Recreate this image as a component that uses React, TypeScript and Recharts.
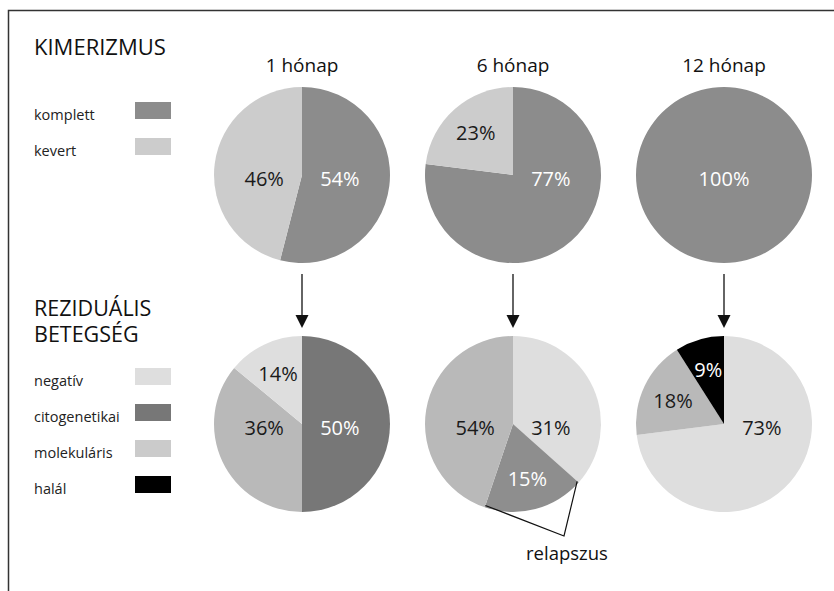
import React from "react";
import { PieChart, Pie, Cell } from "recharts";

// panel headings
const MONTHS = ["1 hónap", "6 hónap", "12 hónap"];

// chimerism (top row), share of patients per month
const CHIMERISM_KEYS = ["komplett", "kevert"];
const COMPLETE = [54, 77, 100];
const MIXED = [46, 23, 0];

// residual disease (bottom row), slices clockwise from 12 o'clock
const RESIDUAL_KEYS = ["negatív", "citogenetikai", "molekuláris", "halál"];
const RESIDUAL_1_NAMES = ["citogenetikai", "molekuláris", "negatív"];
const RESIDUAL_1_VALUES = [50, 36, 14];
// the original artwork draws these slices wider/narrower than the printed figures
const RESIDUAL_6_NAMES = ["negatív", "relapszus", "molekuláris"];
const RESIDUAL_6_VALUES = [36.6, 18.6, 44.8];
const RESIDUAL_6_LABELS = ["31%", "15%", "54%"];
const RESIDUAL_12_NAMES = ["negatív", "molekuláris", "halál"];
const RESIDUAL_12_VALUES = [73, 18, 9];

const W = 834;
const H = 591;
const FONT = "'Open Sans', 'Noto Sans', sans-serif";
const R = 88;
const COL_X = [302, 513, 724];
const TOP_Y = 175;
const BOTTOM_Y = 424;

const FILL: Record<string, string> = {
  komplett: "#8c8c8c",
  kevert: "#cccccc",
  negatív: "#dedede",
  citogenetikai: "#777777",
  molekuláris: "#b9b9b9",
  relapszus: "#8e8e8e",
  halál: "#000000",
};
const LEGEND_FILL: Record<string, string> = {
  ...FILL,
  molekuláris: "#cbcbcb",
};
const DARK = new Set(["komplett", "citogenetikai", "relapszus", "halál"]);

type Slice = { name: string; value: number; label: string };

const topData = (i: number): Slice[] =>
  [
    { name: CHIMERISM_KEYS[0], value: COMPLETE[i], label: `${COMPLETE[i]}%` },
    { name: CHIMERISM_KEYS[1], value: MIXED[i], label: `${MIXED[i]}%` },
  ].filter((d) => d.value > 0);

const zipSlices = (names: string[], values: number[], labels?: string[]): Slice[] =>
  names.map((n, i) => ({
    name: n,
    value: values[i],
    label: labels ? labels[i] : `${values[i]}%`,
  }));

const bottomData: Slice[][] = [
  zipSlices(RESIDUAL_1_NAMES, RESIDUAL_1_VALUES),
  zipSlices(RESIDUAL_6_NAMES, RESIDUAL_6_VALUES, RESIDUAL_6_LABELS),
  zipSlices(RESIDUAL_12_NAMES, RESIDUAL_12_VALUES),
];

const RAD = Math.PI / 180;

// big slices get their label on the horizontal through the centre,
// small ones further out along the slice's middle
const renderLabel = (props: any) => {
  const { cx, cy, midAngle, outerRadius, percent, payload } = props;
  const p = payload?.payload ?? payload;
  const name = p?.name ?? props.name;
  const text = p?.label ?? props.label;
  let x = cx;
  let y = cy + 3;
  if (percent < 0.999) {
    const cos = Math.cos(-midAngle * RAD);
    const sin = Math.sin(-midAngle * RAD);
    if (percent >= 0.3) {
      x = cx + Math.sign(cos) * outerRadius * 0.43;
    } else {
      const r = outerRadius * 0.64;
      x = cx + r * cos;
      y = cy + r * sin;
    }
  }
  return (
    <text
      x={x}
      y={y}
      textAnchor="middle"
      dominantBaseline="central"
      fill={DARK.has(name) ? "#ffffff" : "#1a1a1a"}
      fontFamily={FONT}
      fontSize={20}
    >
      {text}
    </text>
  );
};

// point on the rim of a pie, share measured clockwise from 12 o'clock
const rim = (cx: number, cy: number, share: number, r: number) => {
  const a = (share / 100) * 2 * Math.PI;
  return [cx + r * Math.sin(a), cy - r * Math.cos(a)];
};

const Arrow = ({ x }: { x: number }) => (
  <g>
    <line x1={x} y1={274} x2={x} y2={318} stroke="#111" strokeWidth={1.3} />
    <polygon points={`${x - 6.5},315 ${x + 6.5},315 ${x},328`} fill="#111" />
  </g>
);

export default function App() {
  const relTotal = RESIDUAL_6_VALUES.reduce((a, b) => a + b, 0);
  const relStart = (RESIDUAL_6_VALUES[0] / relTotal) * 100;
  const relEnd = ((RESIDUAL_6_VALUES[0] + RESIDUAL_6_VALUES[1]) / relTotal) * 100;
  const [ax, ay] = rim(COL_X[1], BOTTOM_Y, relStart, R - 2);
  const [bx, by] = rim(COL_X[1], BOTTOM_Y, relEnd, R - 2);
  const tipX = 564;
  const tipY = 536;

  const legendText = {
    fontFamily: FONT,
    fontSize: 14.5,
    fill: "#222",
  };
  const headText = {
    fontFamily: FONT,
    fontSize: 22,
    fill: "#111",
  };

  return (
    <div
      style={{
        position: "absolute",
        left: 0,
        top: 0,
        width: W,
        height: H,
        background: "#fff",
      }}
    >
      <PieChart
        width={W}
        height={H}
        margin={{ top: 0, right: 0, bottom: 0, left: 0 }}
        style={{ position: "absolute", left: 0, top: 0 }}
      >
        {MONTHS.map((m, i) => (
          <Pie
            key={`top-${m}`}
            data={topData(i)}
            dataKey="value"
            nameKey="name"
            cx={COL_X[i]}
            cy={TOP_Y}
            outerRadius={R}
            startAngle={90}
            endAngle={-270}
            stroke="none"
            label={renderLabel}
            labelLine={false}
            isAnimationActive={false}
          >
            {topData(i).map((d) => (
              <Cell key={d.name} fill={FILL[d.name]} />
            ))}
          </Pie>
        ))}
        {MONTHS.map((m, i) => (
          <Pie
            key={`bottom-${m}`}
            data={bottomData[i]}
            dataKey="value"
            nameKey="name"
            cx={COL_X[i]}
            cy={BOTTOM_Y}
            outerRadius={R}
            startAngle={90}
            endAngle={-270}
            stroke="none"
            label={renderLabel}
            labelLine={false}
            isAnimationActive={false}
          >
            {bottomData[i].map((d) => (
              <Cell key={d.name} fill={FILL[d.name]} />
            ))}
          </Pie>
        ))}
      </PieChart>

      <svg
        width={W}
        height={H}
        style={{ position: "absolute", left: 0, top: 0, pointerEvents: "none" }}
      >
        {/* frame */}
        <polyline
          points={`8.5,${H} 8.5,10.5 ${W},10.5`}
          fill="none"
          stroke="#333"
          strokeWidth={1.5}
        />

        <text x={34} y={55} {...headText}>
          KIMERIZMUS
        </text>
        {MONTHS.map((m, i) => (
          <text
            key={m}
            x={COL_X[i]}
            y={72}
            textAnchor="middle"
            {...headText}
            fontSize={19}
          >
            {m}
          </text>
        ))}

        {CHIMERISM_KEYS.map((k, i) => (
          <g key={k}>
            <text x={34} y={120 + i * 36} {...legendText}>
              {k}
            </text>
            <rect x={135} y={102 + i * 36} width={36} height={17} fill={LEGEND_FILL[k]} />
          </g>
        ))}

        <text x={34} y={316} {...headText} fontSize={21.5}>
          REZIDUÁLIS
        </text>
        <text x={34} y={342} {...headText} fontSize={21.5}>
          BETEGSÉG
        </text>
        {RESIDUAL_KEYS.map((k, i) => (
          <g key={k}>
            <text x={34} y={386 + i * 36} {...legendText}>
              {k}
            </text>
            <rect x={135} y={368 + i * 36} width={36} height={17} fill={LEGEND_FILL[k]} />
          </g>
        ))}

        {COL_X.map((x) => (
          <Arrow key={x} x={x} />
        ))}

        {/* relapse bracket */}
        <polyline
          points={`${bx},${by} ${tipX},${tipY} ${ax},${ay}`}
          fill="none"
          stroke="#111"
          strokeWidth={1.2}
        />
        <text x={567} y={560} textAnchor="middle" {...headText} fontSize={18.5}>
          relapszus
        </text>
      </svg>
    </div>
  );
}
